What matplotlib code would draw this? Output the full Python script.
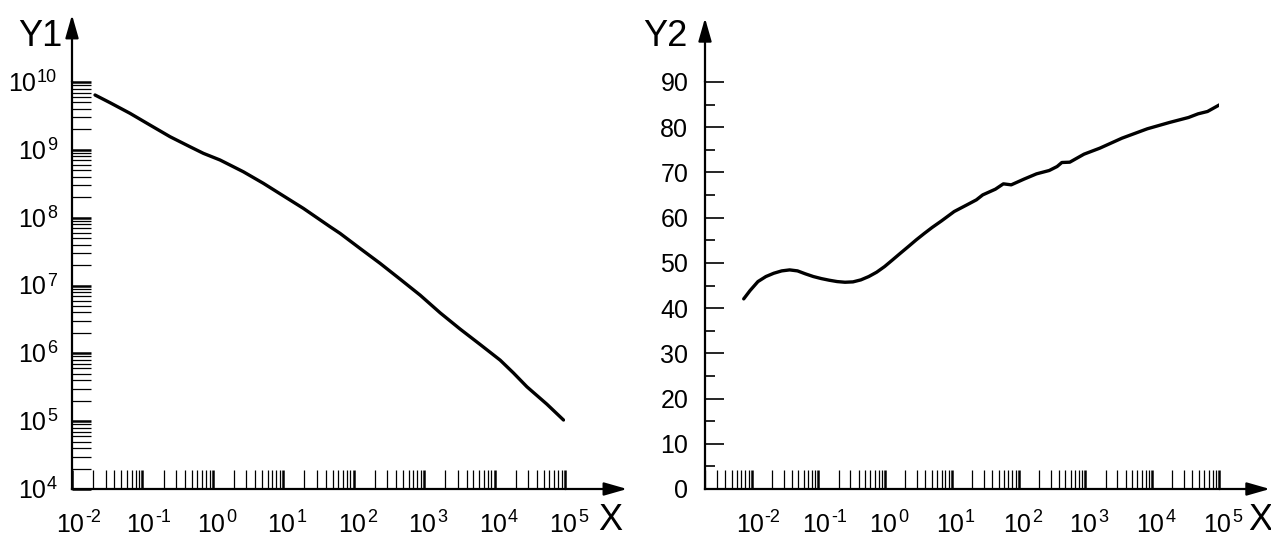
import numpy as np
import matplotlib
matplotlib.use("Agg")
import matplotlib.pyplot as plt
from matplotlib.transforms import ScaledTranslation

plt.rcParams['font.family'] = ['Liberation Sans', 'DejaVu Sans']

# curve 1 (log-log)
x1 = [0.02123, 0.0347, 0.0667, 0.128, 0.247, 0.474, 0.733, 1.265, 2.71,
      5.21, 8.09, 19.3, 46.2, 64.1, 123, 237, 456, 877, 1690, 3240, 6240,
      12000, 18500, 28800, 55300, 95300]
y1 = [6.43e9, 4.95e9, 3.45e9, 2.32e9, 1.56e9, 1.11e9, 8.88e8, 7.08e8,
      4.75e8, 3.21e8, 2.41e8, 1.37e8, 7.35e7, 5.86e7, 3.52e7, 2.12e7,
      1.24e7, 7.21e6, 3.95e6, 2.28e6, 1.35e6, 7.94e5, 5.15e5, 3.21e5,
      1.78e5, 1.04e5]

# curve 2 (semi-log)
x2 = [0.0076, 0.00946, 0.01242, 0.01633, 0.02143, 0.02818, 0.03707,
      0.04864, 0.06397, 0.08395, 0.1104, 0.1449, 0.1905, 0.25, 0.3289,
      0.4315, 0.5675, 0.7447, 0.9795, 1.288, 1.69, 2.223, 2.917, 3.837,
      5.035, 6.982, 10.81, 16.75, 23.23, 28.91, 44.77, 58.88, 77.27, 119.4,
      184.9, 286.4, 375.8, 442.6, 582.1, 950.6, 1641, 3524, 8433, 18110,
      34910, 48530, 67300, 101900]
y2 = [42.04, 43.88, 45.87, 46.98, 47.71, 48.23, 48.45, 48.23, 47.57, 46.98,
      46.53, 46.17, 45.87, 45.72, 45.80, 46.24, 46.98, 47.94, 49.19, 50.66,
      52.14, 53.61, 55.09, 56.49, 57.82, 59.29, 61.36, 62.83, 63.94, 65.04,
      66.30, 67.48, 67.26, 68.51, 69.69, 70.43, 71.31, 72.20, 72.27, 74.04,
      75.37, 77.58, 79.65, 81.05, 82.15, 82.96, 83.48, 84.96]

x_exps = list(range(-2, 6))
y1_exps = list(range(4, 11))
y2_ticks = list(range(0, 100, 10))

W, H = 1271, 536
fig = plt.figure(figsize=(W / 100, H / 100), dpi=100)

ax1 = fig.add_axes([72 / W, 47 / H, 493 / W, 407 / H])
ax2 = fig.add_axes([705 / W, 47 / H, 514 / W, 407 / H])

FS = 18       # tick label size
FS_SUP = 13   # exponent size
SUP_W = 0.556 * FS_SUP * 100 / 72   # width of one digit in pixels


def px(dx, dy):
    return ScaledTranslation(dx / 100, dy / 100, fig.dpi_scale_trans)


def style_axes(ax, x_tip, y_tip):
    for s in ('top', 'right'):
        ax.spines[s].set_visible(False)
    for s in ('left', 'bottom'):
        ax.spines[s].set_linewidth(1.6)
    arrow = dict(arrowstyle='-|>,head_length=1.4,head_width=0.4', lw=1.6,
                 color='k', shrinkA=0, shrinkB=0, mutation_scale=10)
    ax.annotate('', xy=(0, y_tip), xytext=(0, 1), xycoords='axes fraction',
                arrowprops=arrow, annotation_clip=False)
    ax.annotate('', xy=(x_tip, 0), xytext=(1, 0), xycoords='axes fraction',
                arrowprops=arrow, annotation_clip=False)


def log_minor(lo, hi):
    return [m * 10.0 ** e for e in range(lo, hi) for m in range(2, 10)]


def x_labels(ax):
    # "10" centred under the tick, exponent set to the upper right
    base = ax.get_xaxis_transform()
    for e in x_exps:
        ax.text(10.0 ** e, 0, '10', transform=base + px(-2, -43),
                ha='center', va='baseline', fontsize=FS)
        ax.text(10.0 ** e, 0, str(e), transform=base + px(13, -33),
                ha='left', va='baseline', fontsize=FS_SUP)


def y_log_labels(ax):
    base = ax.get_yaxis_transform()
    for e in y1_exps:
        w = len(str(e)) * SUP_W
        ax.text(0, 10.0 ** e, str(e), transform=base + px(-15, 0),
                ha='right', va='baseline', fontsize=FS_SUP)
        ax.text(0, 10.0 ** e, '10', transform=base + px(-16 - w, -9),
                ha='right', va='baseline', fontsize=FS)


# ---- left: Y1 vs X, log-log
ax1.plot(x1, y1, color='k', lw=2.4, solid_capstyle='round', solid_joinstyle='round')
ax1.set_xscale('log')
ax1.set_yscale('log')
ax1.set_xlim(1e-2, 1e5)
ax1.set_ylim(1e4, 1e10)
ax1.set_xticks([10.0 ** e for e in x_exps], labels=[''] * len(x_exps))
ax1.set_xticks(log_minor(-2, 5), minor=True)
ax1.set_yticks([10.0 ** e for e in y1_exps], labels=[''] * len(y1_exps))
ax1.set_yticks(log_minor(4, 10), minor=True)
ax1.set_yticklabels([], minor=True)
ax1.set_xticklabels([], minor=True)
ax1.tick_params(which='both', direction='in', length=14, color='k')
ax1.tick_params(which='major', width=1.8)
ax1.tick_params(which='minor', width=0.9)
style_axes(ax1, 1.126, 1.165)
x_labels(ax1)
y_log_labels(ax1)

# ---- right: Y2 vs X, semi-log
ax2.plot(x2, y2, color='k', lw=2.4, solid_capstyle='round', solid_joinstyle='round')
ax2.set_xscale('log')
ax2.set_xlim(10 ** -2.31, 1e5)
ax2.set_ylim(0, 90)
ax2.set_xticks([10.0 ** e for e in x_exps], labels=[''] * len(x_exps))
ax2.set_xticks(log_minor(-3, 5), minor=True)
ax2.set_xticklabels([], minor=True)
ax2.set_yticks(y2_ticks, labels=[str(v) for v in y2_ticks])
ax2.set_yticks(list(range(5, 90, 10)), minor=True)
ax2.set_yticklabels([], minor=True)
ax2.tick_params(which='both', direction='in', color='k')
ax2.tick_params(axis='x', which='major', length=14, width=1.8)
ax2.tick_params(axis='x', which='minor', length=14, width=0.9)
ax2.tick_params(axis='y', which='major', length=14, width=1.2, pad=12, labelsize=FS)
ax2.tick_params(axis='y', which='minor', length=7, width=1.2)
style_axes(ax2, 1.099, 1.157)
x_labels(ax2)

# axis names
fig.text(62 / W, 1 - 37 / H, 'Y1', fontsize=26, ha='right', va='center')
fig.text(688 / W, 1 - 37 / H, 'Y2', fontsize=26, ha='right', va='center')
fig.text(610 / W, 1 - 520 / H, 'X', fontsize=26, ha='center', va='center')
fig.text(1260 / W, 1 - 520 / H, 'X', fontsize=26, ha='center', va='center')

fig.savefig('out.png', dpi=100)
